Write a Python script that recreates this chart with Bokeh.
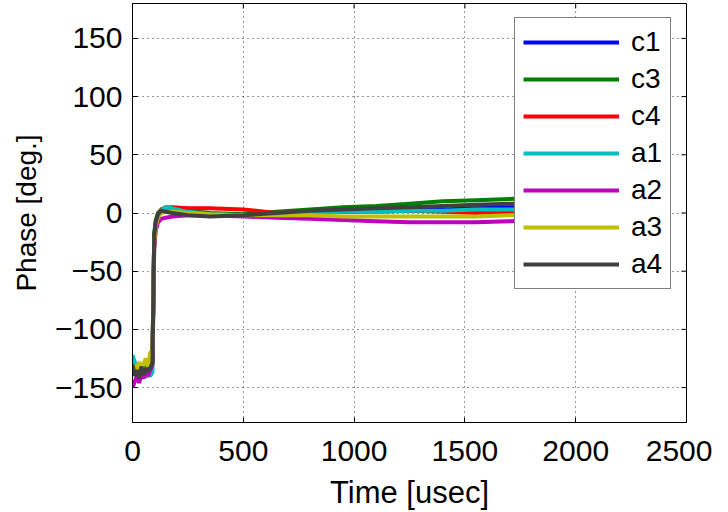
import math
from bokeh.plotting import figure
from bokeh.models import FixedTicker, Range1d, Legend, LegendItem
from bokeh.embed import file_html
from bokeh.resources import INLINE

# ---- data ----
t = [0, 10, 20, 30, 40, 50, 60, 70, 80, 90, 98, 105, 115, 130, 150, 180, 250,
     350, 500, 650, 800, 950, 1100, 1250, 1400, 1550, 1700, 1850, 2000]

c1 = [-135, -138, -133, -136, -140, -134, -137, -135, -130, -128, -20, -8, -2, 2, 3, 3, 1,
      -1, -2, -1, 0, 1, 2, 3, 3, 4, 5, 5, 6]
c3 = [-132, -136, -130, -134, -138, -131, -135, -133, -128, -125, -18, -6, 0, 3, 4, 3, 2,
      0, -1, 1, 3, 5, 6, 8, 10, 11, 12, 13, 14]
c4 = [-137, -134, -139, -135, -132, -138, -134, -136, -131, -127, -22, -10, -2, 3, 5, 5, 4,
      4, 3, 0, 1, 1, 1, 2, 1, 0, 1, 1, 1]
a1 = [-122, -128, -135, -140, -142, -138, -141, -139, -140, -137, -25, -12, -3, 2, 5, 4, 1,
      -1, -2, -1, 0, 1, 1, 2, 2, 3, 3, 3, 4]
a2 = [-150, -145, -140, -146, -138, -142, -136, -140, -135, -130, -30, -15, -8, -5, -4, -3, -2,
      -2, -3, -4, -5, -6, -7, -8, -8, -8, -7, -6, -5]
a3 = [-140, -130, -136, -128, -133, -130, -125, -132, -120, -118, -25, -12, -4, 0, 1, 1, 0,
      -1, -2, -2, -2, -3, -3, -3, -3, -3, -2, -2, -2]
a4 = [-130, -140, -135, -142, -132, -139, -134, -136, -133, -129, -20, -8, -1, 2, 1, 0, -2,
      -3, -2, 0, 2, 3, 4, 5, 6, 7, 8, 8, 9]

names = ["c1", "c3", "c4", "a1", "a2", "a3", "a4"]
series = [c1, c3, c4, a1, a2, a3, a4]
colors = ["#0000ff", "#008000", "#ff0000", "#00bfbf", "#bf00bf", "#bfbf00", "#404040"]

x_ticks = [0, 500, 1000, 1500, 2000, 2500]
y_ticks = [-150, -100, -50, 0, 50, 100, 150]
x_lim = (0, 2500)
y_lim = (-180, 180)

FONT = "Liberation Sans"

p = figure(width=712, height=512, output_backend="svg", toolbar_location=None,
           x_range=Range1d(*x_lim), y_range=Range1d(*y_lim),
           min_border_left=132, min_border_right=26, min_border_top=3,
           min_border_bottom=86, background_fill_color="white",
           border_fill_color="white")

p.outline_line_color = "black"
p.outline_line_width = 1

items = []
for name, ys, col in zip(names, series, colors):
    r = p.line(t, ys, line_color=col, line_width=4)
    items.append(LegendItem(label=name, renderers=[r]))

# main axes
for ax in [p.xaxis[0], p.yaxis[0]]:
    ax.major_tick_in = 5
    ax.major_tick_out = 0
    ax.minor_tick_in = 0
    ax.minor_tick_out = 0
    ax.axis_line_color = "black"
    ax.major_tick_line_color = "black"
    ax.major_label_text_font = FONT
    ax.major_label_text_font_size = "30px"
    ax.major_label_text_color = "black"
    ax.axis_label_text_font = FONT
    ax.axis_label_text_font_style = "normal"
    ax.axis_label_text_color = "black"

p.xaxis[0].ticker = FixedTicker(ticks=x_ticks)
p.yaxis[0].ticker = FixedTicker(ticks=y_ticks)
p.xaxis[0].axis_label = "Time [usec]"
p.yaxis[0].axis_label = "Phase [deg.]"
p.xaxis[0].axis_label_text_font_size = "31px"
p.yaxis[0].axis_label_text_font_size = "28px"
p.xaxis[0].major_label_standoff = 18
p.yaxis[0].major_label_standoff = 10
p.xaxis[0].axis_label_standoff = 11
p.yaxis[0].axis_label_standoff = 10

# tick marks on the top and right edges (inward)
p.ray(x=x_ticks, y=[y_lim[1]] * len(x_ticks), length=5, length_units="screen",
      angle=-math.pi / 2, line_color="black", line_width=1)
p.ray(x=[x_lim[1]] * len(y_ticks), y=y_ticks, length=5, length_units="screen",
      angle=math.pi, line_color="black", line_width=1)

# grid
for g in [p.xgrid[0], p.ygrid[0]]:
    g.grid_line_color = "black"
    g.grid_line_dash = "1 4"
    g.grid_line_width = 1
    g.grid_line_alpha = 0.8
p.xgrid[0].ticker = FixedTicker(ticks=x_ticks)
p.ygrid[0].ticker = FixedTicker(ticks=y_ticks)

legend = Legend(items=items, location=(382, 133))
legend.label_text_font = FONT
legend.label_text_font_size = "28px"
legend.label_text_color = "black"
legend.glyph_width = 96
legend.glyph_height = 32
legend.label_height = 32
legend.label_standoff = 12
legend.spacing = 5
legend.padding = 8
legend.margin = 0
legend.border_line_color = "black"
legend.border_line_width = 1
legend.background_fill_color = "white"
legend.background_fill_alpha = 1.0
p.add_layout(legend, "center")

open("out.html", "w").write(file_html(p, INLINE))
